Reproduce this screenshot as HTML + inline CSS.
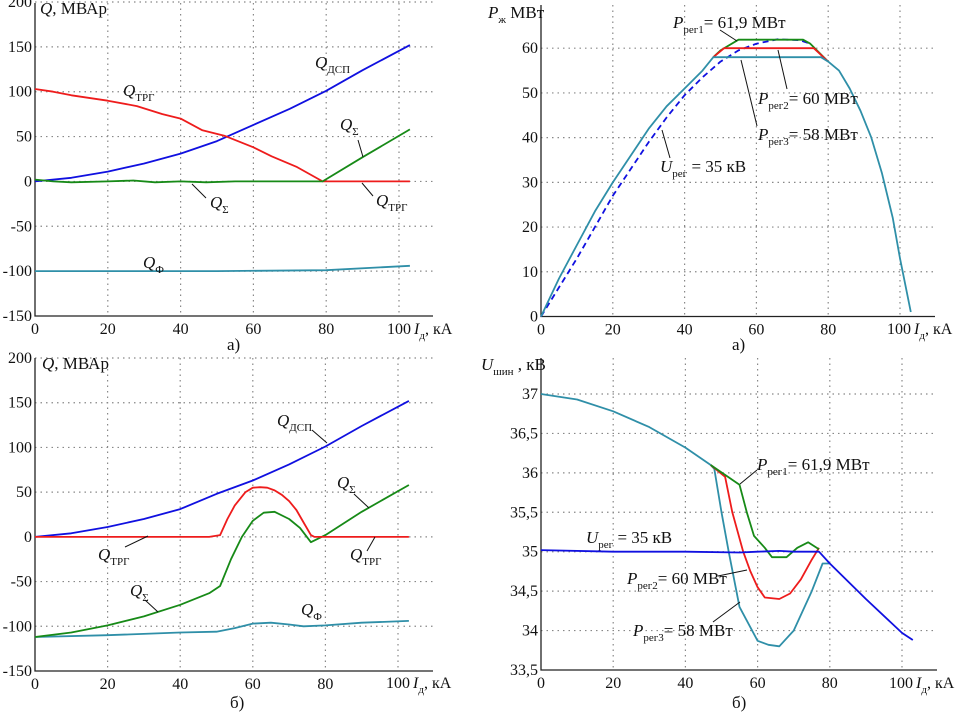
<!DOCTYPE html>
<html><head><meta charset="utf-8"><style>
body{margin:0;background:#fff}
svg{display:block;font-family:"Liberation Serif",serif}
.tk{font-size:16px;fill:#111}
.lb{font-size:17px;fill:#111}
.xt{font-size:16px;fill:#111}
.it{font-style:italic}
.sb{font-size:11px}
</style></head><body>
<svg id="c" width="955" height="714" viewBox="0 0 955 714"></svg>
<script>
// ---- data ----
const tlX_dsp=[0,10,20,30,40,50,60,70,80,90,103];
const tlY_dsp=[0,4,11,20,31,45,63,81,101,124,152];
const tlX_trg=[0,5,10,20,28,35,40,46,52,60,65,72,79,103];
const tlY_trg=[103,100,96,90,84,75,70,57,51,38,28,16,0,0];
const tlX_sum=[0,5,10,20,27,33,40,47,55,60,79,90,103];
const tlY_sum=[2,0,-1,0,1,-1,0,-1,0,0,0,27,58];
const tlX_f=[0,50,80,103];
const tlY_f=[-100,-100,-99,-94];

const trX_p3=[0,5,10,15,20,25,30,35,40,45,48,55,60,78,80,83,86,89,92,95,98,100,101.5,103];
const trY_p3=[0,8.5,16,23.5,30,36,42,47,51,55,58,58,58,58,57,55,51,46,40,32,22,13,7,1];
const trX_p1=[48,50,55,73,75,80];
const trY_p1=[58,59.5,61.9,61.9,61,57];
const trX_p2=[48,51,76,80];
const trY_p2=[58,60,60,57];
const trX_u=[0,5,10,15,20,25,30,35,40,45,50,55,60,66,72,75];
const trY_u=[0,6.5,13,20,27,33,39,44.5,49.5,53.5,57,59.5,61,62,61.8,61];

const blX_dsp=[0,10,20,30,40,50,60,70,80,90,103];
const blY_dsp=[0,4,11,20,31,48,63,81,101,124,152];
const blX_trg=[0,48,51,53,55,58,60,62,64,66,68,70,72,74,76,77,103];
const blY_trg=[0,0,2,20,35,50,55,55.5,55,52,47,40,30,16,2,0,0];
const blX_sum=[0,10,20,30,40,48,51,54,57,60,63,66,70,73,76,80,90,103];
const blY_sum=[-112,-107,-99,-89,-76,-63,-55,-25,0,18,27,28,20,10,-6,2,28,58];
const blX_f=[0,20,40,50,55,60,65,70,74,80,90,103];
const blY_f=[-112,-110,-107,-106,-102,-97,-96,-98,-100,-99,-96,-94];

const brX_base=[0,10,20,30,40,47];
const brY_base=[37,36.93,36.78,36.58,36.32,36.1];
const brX_p3=[47,48,50,52,55,60,63,66,70,75,78,80];
const brY_p3=[36.1,36.05,35.5,35,34.3,33.87,33.82,33.8,34,34.5,34.85,34.85];
const brX_p2=[47,51,53,56,58,60,62,66,69,72,75,77];
const brY_p2=[36.1,35.95,35.5,35,34.75,34.55,34.42,34.4,34.47,34.65,34.9,35.05];
const brX_p1=[47,55,57,59,62,64,68,71,74,77];
const brY_p1=[36.1,35.85,35.5,35.2,35.05,34.93,34.93,35.05,35.12,35.03];
const brX_u=[0,20,40,55,60,66,70,77,80,90,100,103];
const brY_u=[35.02,35,35,34.99,35,35.01,35,35,34.85,34.4,33.97,33.88];

const xTicksL=[0,20,40,60,80,100];
const qTicks=[200,150,100,50,0,-50,-100,-150];
const qTickLabels=["200","150","100","50","0","-50","-100","-150"];
const pTicks=[0,10,20,30,40,50,60];
const uTicks=[37,36.5,36,35.5,35,34.5,34,33.5];
const uTickLabels=["37","36,5","36","35,5","35","34,5","34","33,5"];

// ---- drawing ----
const svg=document.getElementById('c');
const NS='http://www.w3.org/2000/svg';
function mk(tag,at,parent){const e=document.createElementNS(NS,tag);for(const k in at)e.setAttribute(k,at[k]);(parent||svg).appendChild(e);return e;}
function panel(name,x0,x100,xRight,yTop,yBot,vBot,vTop){
  const g=mk('g',{});
  
  
  const sx=v=>x0+(x100-x0)*v/100;
  const sy=v=>yBot-(yBot-yTop)*(v-vBot)/(vTop-vBot);
  return {g,sx,sy,x0,xRight,yBot};
}
function grid(p,yt,ylabels,axTop){
  const {g,sx,sy}=p;
  xTicksL.forEach(t=>{ if(t===0)return;
    const l=mk('line',{x1:sx(t),x2:sx(t),y1:axTop,y2:p.yBot,stroke:'#888','stroke-dasharray':'1.5,4','stroke-width':1.2},g);
    
    });
  yt.forEach((t,i)=>{
    const yy=sy(t);
    if(Math.abs(yy-p.yBot)>1){
      const l=mk('line',{x1:p.x0,x2:p.xRight,y1:yy,y2:yy,stroke:'#888','stroke-dasharray':'1.5,4','stroke-width':1.2},g);
      
      }
    const tx=mk('text',{x:p.x0-3,y:yy+5,'text-anchor':'end',class:'tk'},g);
    tx.textContent=ylabels[i];
    
    
  });
  xTicksL.forEach(t=>{
    if(t===100)return; // drawn with axis title
    const tx=mk('text',{x:sx(t),y:p.yBot+18,'text-anchor':'middle',class:'tk'},g);
    tx.textContent=String(t);
    
    });
  const a=mk('path',{d:`M${p.x0},${axTop}V${p.yBot}H${p.xRight}`,stroke:'#222','stroke-width':1.3,fill:'none'},g);
  
  
}
function line(p,xs,ys,color,name,dash){
  const d=xs.map((x,i)=>(i?'L':'M')+p.sx(x).toFixed(1)+','+p.sy(ys[i]).toFixed(1)).join('');
  const at={d,stroke:color,'stroke-width':1.8,fill:'none','stroke-linejoin':'round'};
  if(dash)at['stroke-dasharray']=dash;
  const e=mk('path',at,p.g);
  
  
}
function label(html,x,y,name,cls){
  const t=mk('text',{x,y,class:cls||'lb'});
  t.innerHTML=html;
  
  
}
function leader(x1,y1,x2,y2){
  const l=mk('line',{x1,y1,x2,y2,stroke:'#111','stroke-width':1});
  
  
}
const BLUE='#1010e0',RED='#ee1c1c',GREEN='#178a17',TEAL='#2f8fa8';
const Q=(s)=>`<tspan class="it">Q</tspan><tspan class="sb" dy="5">${s}</tspan>`;
const P=(s,rest)=>`<tspan class="it">P</tspan><tspan class="sb" dy="5">${s}</tspan><tspan dy="-5">${rest}</tspan>`;
const XT='100<tspan class="it" dx="3">I</tspan><tspan class="sb" dy="5">д</tspan><tspan dy="-5">, кА</tspan>';

// top-left
const tl=panel('chart-q-a',35,399,433,2,316,-150,200);
grid(tl,qTicks,qTickLabels,3);
line(tl,tlX_f,tlY_f,TEAL,'q-phi-line');
line(tl,tlX_dsp,tlY_dsp,BLUE,'q-dsp-line');
line(tl,tlX_trg,tlY_trg,RED,'q-trg-line');
line(tl,tlX_sum,tlY_sum,GREEN,'q-sum-line');
label('<tspan class="it">Q</tspan>, МВАр',40,14,'y-axis-title');
label(XT,387,334,'x-axis-title-a','xt');
label(Q('ДСП'),315,68,'label-q-dsp');
label(Q('ТРГ'),123,96,'label-q-trg');
label(Q('Σ'),340,130,'label-q-sum');leader(358,140,363,157);
label(Q('Σ'),210,208,'label-q-sum-low');leader(192,184,206,198);
label(Q('ТРГ'),376,206,'label-q-trg-low');leader(362,183,373,196);
label(Q('Ф'),143,268,'label-q-phi');
label('а)',227,350,'panel-label-a-left');

// top-right
const tr=panel('chart-p-a',541,900,935,-13.5,316.5,0,73.8);
grid(tr,pTicks,pTicks.map(String),5);
line(tr,trX_u,trY_u,BLUE,'p-ureg-dashed-line','6,4');
line(tr,trX_p1,trY_p1,GREEN,'p-reg1-line');
line(tr,trX_p2,trY_p2,RED,'p-reg2-line');
line(tr,trX_p3,trY_p3,TEAL,'p-reg3-line');
label('<tspan class="it">P</tspan><tspan class="sb" dy="5">ж</tspan><tspan dy="-5"> МВт</tspan>',488,18,'y-axis-title-p');
label(XT,887,334,'x-axis-title-p','xt');
label(P('рег1','= 61,9 МВт'),673,28,'label-p-reg1');leader(720,30,737,41);
label(P('рег2','= 60 МВт'),758,104,'label-p-reg2');leader(778,50,787,89);
label(P('рег3','= 58 МВт'),758,140,'label-p-reg3');leader(741,60,757,126);
label('<tspan class="it">U</tspan><tspan class="sb" dy="5">рег</tspan><tspan dy="-5"> = 35 кВ</tspan>',660,172,'label-u-reg');leader(662,130,670,158);
label('а)',732,350,'panel-label-a-right');

// bottom-left
const bl=panel('chart-q-b',35,398,433,358,671,-150,200);
grid(bl,qTicks,qTickLabels,358);
line(bl,blX_f,blY_f,TEAL,'q-phi-line-b');
line(bl,blX_dsp,blY_dsp,BLUE,'q-dsp-line-b');
line(bl,blX_sum,blY_sum,GREEN,'q-sum-line-b');
line(bl,blX_trg,blY_trg,RED,'q-trg-line-b');
label('<tspan class="it">Q</tspan>, МВАр',42,369,'y-axis-title-b');
label(XT,386,688,'x-axis-title-b','xt');
label(Q('ДСП'),277,426,'label-q-dsp-b');leader(312,430,327,443);
label(Q('Σ'),337,488,'label-q-sum-b');leader(354,494,369,508);
label(Q('ТРГ'),98,560,'label-q-trg-b');leader(125,547,148,536);
label(Q('Σ'),130,596,'label-q-sum-b-low');leader(145,600,158,612);
label(Q('Ф'),301,615,'label-q-phi-b');
label(Q('ТРГ'),350,560,'label-q-trg-b-right');leader(375,537,367,551);
label('б)',230,708,'panel-label-b-left');

// bottom-right
const br=panel('chart-u-b',541,902,937,394,670,33.5,37);
grid(br,uTicks,uTickLabels,358);
line(br,brX_base,brY_base,TEAL,'u-base-line');
line(br,brX_p3,brY_p3,TEAL,'u-reg3-line');
line(br,brX_p2,brY_p2,RED,'u-reg2-line');
line(br,brX_p1,brY_p1,GREEN,'u-reg1-line');
line(br,brX_u,brY_u,BLUE,'u-reg-line');
label('<tspan class="it">U</tspan><tspan class="sb" dy="5">шин</tspan><tspan dy="-5"> , кВ</tspan>',481,370,'y-axis-title-u');
label(XT,889,688,'x-axis-title-u','xt');
label(P('рег1','= 61,9 МВт'),757,470,'label-u-p-reg1');leader(740,484,757,470);
label('<tspan class="it">U</tspan><tspan class="sb" dy="5">рег</tspan><tspan dy="-5"> = 35 кВ</tspan>',586,543,'label-u-reg-b');
label(P('рег2','= 60 МВт'),627,584,'label-u-p-reg2');leader(718,576,747,570);
label(P('рег3','= 58 МВт'),633,636,'label-u-p-reg3');leader(713,622,740,602);
label('б)',732,708,'panel-label-b-right');
</script>
</body></html>
